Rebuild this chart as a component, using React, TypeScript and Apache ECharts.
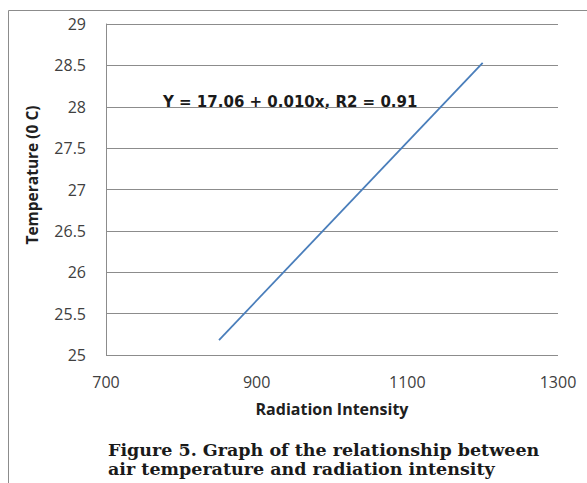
import React, { useEffect, useRef } from "react";
import * as echarts from "echarts";

const xTicks = [700, 900, 1100, 1300];
const yRange = [25, 29];
const fitLine: [number, number][] = [
  [850, 25.18],
  [1200, 28.53],
];
const equationText = "Y = 17.06 + 0.010x, R2 = 0.91";
const xTitle = "Radiation Intensity";
const yTitle = "Temperature (0 C)";
const captionLines = [
  "Figure 5. Graph of the relationship between",
  "air temperature and radiation intensity",
];

export default function App() {
  const ref = useRef<HTMLDivElement>(null);
  useEffect(() => {
    if (!ref.current) return;
    const chart = echarts.init(ref.current, undefined, { renderer: "svg" });
    const font = "Open Sans, Noto Sans, sans-serif";
    const serif = "DejaVu Serif, Liberation Serif, serif";
    chart.setOption({
      animation: false,
      backgroundColor: "#ffffff",
      grid: { left: 106, top: 24, right: 29, bottom: 128, containLabel: false },
      xAxis: {
        type: "value",
        min: xTicks[0],
        max: xTicks[xTicks.length - 1],
        interval: 200,
        axisLine: { show: false },
        axisTick: { show: false },
        splitLine: { show: false },
        axisLabel: {
          color: "#404040",
          fontSize: 16,
          fontFamily: font,
          margin: 19,
          formatter: (v: number) => String(v),
        },
        name: xTitle,
        nameLocation: "middle",
        nameGap: 46,
        nameTextStyle: { color: "#202020", fontSize: 16, fontWeight: "bold", fontFamily: font },
      },
      yAxis: {
        type: "value",
        min: yRange[0],
        max: yRange[1],
        interval: 0.5,
        axisLine: { show: true, lineStyle: { color: "#8c8c8c", width: 1 } },
        axisTick: { show: false },
        splitLine: { show: true, lineStyle: { color: "#8c8c8c", width: 1 } },
        axisLabel: { color: "#404040", fontSize: 16, fontFamily: font, margin: 20 },
      },
      series: [
        {
          type: "line",
          data: fitLine,
          showSymbol: false,
          lineStyle: { color: "#4a7ebb", width: 1.8 },
        },
      ],
      graphic: [
        {
          type: "rect",
          shape: { x: 8.5, y: 10.5, width: 640, height: 500 },
          style: { fill: "none", stroke: "#8c8c8c", lineWidth: 1 },
          silent: true,
        },
        {
          type: "text",
          x: 32,
          y: 175,
          rotation: Math.PI / 2,
          style: {
            text: yTitle,
            fill: "#202020",
            fontSize: 15.5,
            fontWeight: "bold",
            fontFamily: font,
            align: "center",
            verticalAlign: "middle",
          },
        },
        {
          type: "text",
          x: 163,
          y: 102,
          style: {
            text: equationText,
            fill: "#1a1a1a",
            fontSize: 15,
            fontWeight: "bold",
            fontFamily: "DejaVu Sans, sans-serif",
            verticalAlign: "middle",
          },
        },
        {
          type: "text",
          x: 108,
          y: 450,
          style: {
            text: captionLines[0],
            fill: "#1a1a1a",
            fontSize: 17.5,
            fontWeight: "bold",
            fontFamily: serif,
            verticalAlign: "middle",
          },
        },
        {
          type: "text",
          x: 108,
          y: 469,
          style: {
            text: captionLines[1],
            fill: "#1a1a1a",
            fontSize: 17.5,
            fontWeight: "bold",
            fontFamily: serif,
            verticalAlign: "middle",
          },
        },
      ],
    });
    return () => chart.dispose();
  }, []);
  return (
    <div
      ref={ref}
      style={{ position: "fixed", left: 0, top: 0, width: 587, height: 483 }}
    />
  );
}
